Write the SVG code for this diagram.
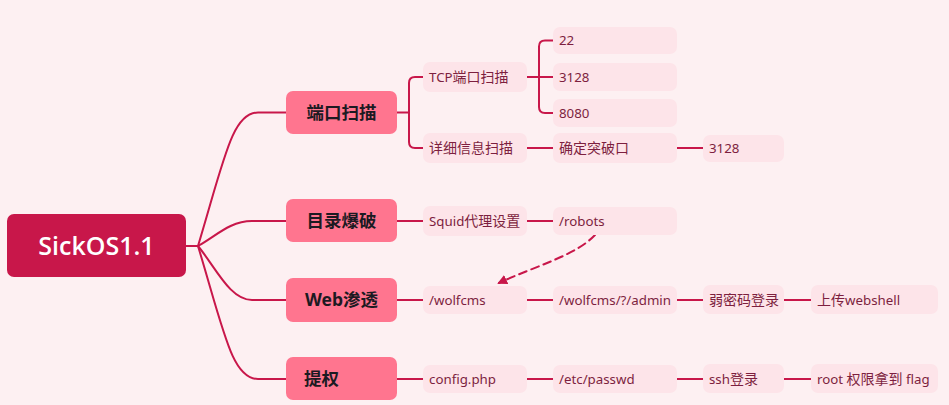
<svg xmlns="http://www.w3.org/2000/svg" width="949" height="405" viewBox="0 0 949 405">
<defs>
<style>
.bg{fill:#fdf0f2}
.root{fill:#c8174a}
.l1{fill:#ff758f}
.lx{fill:#fde4e9}
.c{fill:none;stroke:#c8174a;stroke-width:2;stroke-linecap:round;stroke-linejoin:round}
.t0{font-family:"Open Sans","Noto Sans",sans-serif;font-size:25px;font-weight:600;fill:#ffffff}
.t1{font-family:"Noto Sans","Noto Sans CJK SC",sans-serif;font-size:17.5px;font-weight:700;fill:#1c1a22}
.t2{font-family:"Noto Sans","Noto Sans CJK SC",sans-serif;font-size:13.3px;fill:#7d1f3f}
.cj{font-size:14px}
</style>
<marker id="ah" viewBox="0 0 10 10" refX="8" refY="5" markerWidth="5" markerHeight="5" orient="auto">
<path d="M0,0 L10,5 L0,10 z" fill="#c8174a"/>
</marker>
</defs>
<rect class="bg" x="0" y="0" width="949" height="405"/>

<g id="connectors">
<path class="c" d="M186,246 H198"/>
<path class="c" d="M198,246 C224,160 232,112.5 258,112.5 H286"/>
<path class="c" d="M198,246 C216,236 230,221 252,221 H286"/>
<path class="c" d="M198,246 C216,268 230,300 252,300 H286"/>
<path class="c" d="M198,246 C224,332 232,379 258,379 H286"/>
<path class="c" d="M397,112.5 H409 M423,77 H415 Q409,77 409,83 V142 Q409,148 415,148 H423"/>
<path class="c" d="M527,77 H553 M553,40.5 H545 Q539,40.5 539,46.5 V107 Q539,113 545,113 H553"/>
<path class="c" d="M527,148 H553 M677,148 H703"/>
<path class="c" d="M397,221 H423 M527,221 H553"/>
<path class="c" d="M397,300 H423 M527,300 H553 M677,300 H703 M784,300 H811"/>
<path class="c" d="M397,379 H423 M527,379 H553 M677,379 H703 M784,379 H811"/>
<path class="c" d="M595,235 C575,256 535,266 499,283" stroke-dasharray="8 5" marker-end="url(#ah)"/>
</g>

<g id="root"><rect class="root" x="7" y="214" width="179" height="63" rx="7"/><text class="t0" x="96.5" y="254.5" text-anchor="middle">SickOS1.1</text></g>

<g id="n-port"><rect class="l1" x="286" y="91" width="111" height="43" rx="7"/><text class="t1" x="341.5" y="118.5" text-anchor="middle">端口扫描</text></g>
<g id="n-dir"><rect class="l1" x="286" y="199" width="111" height="43" rx="7"/><text class="t1" x="341.5" y="226.5" text-anchor="middle">目录爆破</text></g>
<g id="n-web"><rect class="l1" x="286" y="278" width="111" height="44" rx="7"/><text class="t1" x="341.5" y="306" text-anchor="middle">Web渗透</text></g>
<g id="n-priv"><rect class="l1" x="286" y="357" width="111" height="43" rx="7"/><text class="t1" x="304" y="385">提权</text></g>

<g id="n-tcp"><rect class="lx" x="423" y="62" width="104" height="30" rx="7"/><text class="t2" x="429" y="81.5">TCP<tspan class="cj">端口扫描</tspan></text></g>
<g id="n-detail"><rect class="lx" x="423" y="133" width="104" height="30" rx="7"/><text class="t2 cj" x="429" y="152.5">详细信息扫描</text></g>
<g id="n-22"><rect class="lx" x="553" y="27" width="124" height="27" rx="7"/><text class="t2" x="559" y="45">22</text></g>
<g id="n-3128a"><rect class="lx" x="553" y="63" width="124" height="28" rx="7"/><text class="t2" x="559" y="81.5">3128</text></g>
<g id="n-8080"><rect class="lx" x="553" y="99" width="124" height="28" rx="7"/><text class="t2" x="559" y="117.5">8080</text></g>
<g id="n-confirm"><rect class="lx" x="553" y="133" width="124" height="30" rx="7"/><text class="t2 cj" x="559" y="152.5">确定突破口</text></g>
<g id="n-3128b"><rect class="lx" x="703" y="135" width="81" height="27" rx="7"/><text class="t2" x="709" y="152.5">3128</text></g>

<g id="n-squid"><rect class="lx" x="423" y="206" width="104" height="30" rx="7"/><text class="t2" x="429" y="225.5">Squid<tspan class="cj">代理设置</tspan></text></g>
<g id="n-robots"><rect class="lx" x="553" y="207" width="124" height="28" rx="7"/><text class="t2" x="559" y="225.5">/robots</text></g>

<g id="n-wolf"><rect class="lx" x="423" y="286" width="104" height="28" rx="7"/><text class="t2" x="429" y="304.5">/wolfcms</text></g>
<g id="n-admin"><rect class="lx" x="553" y="286" width="124" height="28" rx="7"/><text class="t2" x="559" y="304.5">/wolfcms/?/admin</text></g>
<g id="n-weak"><rect class="lx" x="703" y="285" width="81" height="29" rx="7"/><text class="t2 cj" x="709" y="304.5">弱密码登录</text></g>
<g id="n-upload"><rect class="lx" x="811" y="285" width="127" height="29" rx="7"/><text class="t2" x="817" y="304.5"><tspan class="cj">上传</tspan>webshell</text></g>

<g id="n-config"><rect class="lx" x="423" y="365" width="104" height="28" rx="7"/><text class="t2" x="429" y="383.5">config.php</text></g>
<g id="n-passwd"><rect class="lx" x="553" y="365" width="124" height="28" rx="7"/><text class="t2" x="559" y="383.5">/etc/passwd</text></g>
<g id="n-ssh"><rect class="lx" x="703" y="364" width="81" height="29" rx="7"/><text class="t2" x="709" y="383.5">ssh<tspan class="cj">登录</tspan></text></g>
<g id="n-root"><rect class="lx" x="811" y="364" width="127" height="29" rx="7"/><text class="t2" x="817" y="383.5">root <tspan class="cj">权限拿到</tspan> flag</text></g>
</svg>
